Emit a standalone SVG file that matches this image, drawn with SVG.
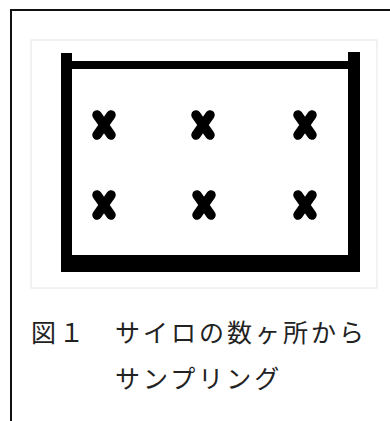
<svg xmlns="http://www.w3.org/2000/svg" width="390" height="421" viewBox="0 0 390 421">
<style>
.x{stroke:#000;stroke-width:9.5;stroke-linecap:round;fill:none}
.cap{font-family:"Noto Sans CJK JP","Noto Sans",sans-serif;font-size:25px;letter-spacing:3px;fill:#222}
</style>
<defs>
<path id="cross" class="x" d="M-7,-10 L7,10 M7,-10 L-7,10"/>
</defs>
<rect width="390" height="421" fill="#fff"/>
<g id="frame">
<rect x="11" y="10" width="400" height="440" fill="none" stroke="#111" stroke-width="2"/>
</g>
<g id="figure">
<rect x="31" y="40" width="346" height="248" fill="#fff" stroke="#e6e6e6" stroke-width="1"/>
<g id="silo" fill="#000">
<rect x="61" y="53" width="11" height="219"/>
<rect x="348" y="52" width="12" height="220"/>
<rect x="61" y="255" width="299" height="17"/>
<rect x="72" y="61" width="276" height="8"/>
</g>
<g id="samples">
<use href="#cross" x="104" y="125"/>
<use href="#cross" x="203" y="125"/>
<use href="#cross" x="305" y="125"/>
<use href="#cross" x="104" y="205"/>
<use href="#cross" x="204" y="205"/>
<use href="#cross" x="305" y="205"/>
</g>
</g>
<g id="caption">
<text class="cap" x="31" y="342">図１</text>
<text class="cap" x="115" y="342">サイロの数ヶ所から</text>
<text class="cap" x="115" y="388">サンプリング</text>
</g>
</svg>
